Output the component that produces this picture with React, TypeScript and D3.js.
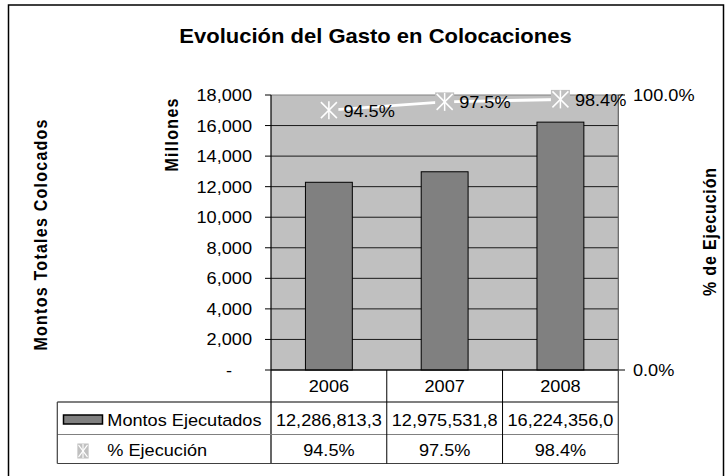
import React from "react";
import * as d3 from "d3";

const categories = ["2006", "2007", "2008"];
const montos = [12286.8133, 12975.5318, 16224.356]; // millones
const montosLabels = ["12,286,813,3", "12,975,531,8", "16,224,356,0"];
const ejecucion = [94.5, 97.5, 98.4];
const ejecucionLabels = ["94.5%", "97.5%", "98.4%"];
const yTicks = [0, 2000, 4000, 6000, 8000, 10000, 12000, 14000, 16000, 18000];
const y2Ticks = [0, 100];

const W = 725;
const H = 476;
const FONT = "'Liberation Sans', Arial, Helvetica, sans-serif";
const SX = 1.1;
const FS = 16.5;

type TP = {
  x: number;
  y: number;
  anchor?: "start" | "middle" | "end";
  size?: number;
  weight?: string;
  rot?: boolean;
  len?: number;
  children: React.ReactNode;
};

function T({ x, y, anchor = "start", size = FS, weight = "normal", rot = false, len, children }: TP) {
  const tf = `translate(${x},${y}) scale(${SX},1)${rot ? " rotate(-90)" : ""}`;
  const extra: any = len ? { textLength: len, lengthAdjust: "spacing" } : {};
  return (
    <text transform={tf} textAnchor={anchor} fontSize={size} fontWeight={weight} fontFamily={FONT} fill="#000" {...extra}>
      {children}
    </text>
  );
}

function Star({ cx, cy, s }: { cx: number; cy: number; s: number }) {
  const h = s / 2;
  const a = h - 1.5;
  return (
    <g>
      <rect x={cx - h} y={cy - h} width={s} height={s} fill="#c0c0c0" />
      <line x1={cx - a} y1={cy - a} x2={cx + a} y2={cy + a} stroke="#fff" strokeWidth={1.5} />
      <line x1={cx - a} y1={cy + a} x2={cx + a} y2={cy - a} stroke="#fff" strokeWidth={1.5} />
      <line x1={cx} y1={cy - h + 0.5} x2={cx} y2={cy + h - 0.5} stroke="#fff" strokeWidth={1.5} />
    </g>
  );
}

export default function App() {
  const left = 271;
  const right = 618.3;
  const top = 95;
  const bottom = 370;
  const rowTop1 = 402;
  const rowTop2 = 434.5;
  const tableBottom = 463.5;
  const legendLeft = 57.3;

  const x = d3.scaleBand<string>().domain(categories).range([left, right]).padding(0);
  const bw = x.bandwidth();
  const barW = bw * 0.405;
  const y = d3.scaleLinear().domain([0, 18000]).range([bottom, top]);
  const y2 = d3.scaleLinear().domain([0, 100]).range([bottom, top]);
  const cx = (c: string) => (x(c) as number) + bw / 2;

  const line = d3
    .line<number>()
    .x((_, i) => cx(categories[i]))
    .y((d) => y2(d));

  const fmt = d3.format(",");

  return (
    <svg width={W} height={H} style={{ position: "absolute", left: 0, top: 0, background: "#fff" }}>
      {/* outer border */}
      <rect x={8.5} y={5} width={715} height={490} fill="#fff" stroke="#000" strokeWidth={1.5} />

      {/* title */}
      <T x={375.5} y={43.3} anchor="middle" size={20} weight="bold">
        Evolución del Gasto en Colocaciones
      </T>

      {/* plot area */}
      <rect x={left} y={top} width={right - left} height={bottom - top} fill="#c0c0c0" />
      {yTicks.map((t) => (
        <line key={t} x1={left} x2={right} y1={y(t)} y2={y(t)} stroke={t === 18000 ? "#808080" : "#1a1a1a"} strokeWidth={1} />
      ))}
      <line x1={right} x2={right} y1={top} y2={bottom} stroke="#606060" strokeWidth={1.2} />

      {/* bars */}
      {montos.map((v, i) => (
        <rect
          key={i}
          x={cx(categories[i]) - barW / 2}
          y={y(v)}
          width={barW}
          height={bottom - y(v)}
          fill="#808080"
          stroke="#000"
          strokeWidth={1}
        />
      ))}

      {/* line series */}
      <path d={line(ejecucion) || ""} fill="none" stroke="#fff" strokeWidth={3} />
      {ejecucion.map((v, i) => (
        <Star key={i} cx={cx(categories[i])} cy={y2(v)} s={19} />
      ))}
      {ejecucion.map((v, i) => (
        <T key={i} x={cx(categories[i]) + 14.5} y={y2(v) + 6.5}>
          {ejecucionLabels[i]}
        </T>
      ))}

      {/* left axis */}
      <line x1={left} x2={left} y1={top} y2={tableBottom} stroke="#000" strokeWidth={1.2} />
      {yTicks.map((t) => (
        <g key={t}>
          <line x1={265} x2={left} y1={y(t)} y2={y(t)} stroke="#000" strokeWidth={1} />
          {t === 0 ? (
            <T x={232} y={y(t) + 6} anchor="end">-</T>
          ) : (
            <T x={252} y={y(t) + 6} anchor="end">{fmt(t)}</T>
          )}
        </g>
      ))}

      {/* right axis */}
      {y2Ticks.map((t) => (
        <g key={t}>
          <line x1={right} x2={625} y1={y2(t)} y2={y2(t)} stroke="#000" strokeWidth={1} />
          <T x={633} y={y2(t) + 6}>{d3.format(".1f")(t) + "%"}</T>
        </g>
      ))}

      {/* axis titles */}
      <T x={46.5} y={235} anchor="middle" size={16} weight="bold" rot len={231}>
        Montos Totales Colocados
      </T>
      <T x={178} y={135} anchor="middle" size={16} weight="bold" rot len={73}>
        Millones
      </T>
      <T x={716} y={232} anchor="middle" size={16} weight="bold" rot len={128}>
        % de Ejecución
      </T>

      {/* data table */}
      <line x1={left} x2={right} y1={bottom} y2={bottom} stroke="#000" strokeWidth={1} />
      <line x1={legendLeft} x2={right} y1={rowTop1} y2={rowTop1} stroke="#000" strokeWidth={1.2} />
      <line x1={legendLeft} x2={right} y1={rowTop2} y2={rowTop2} stroke="#808080" strokeWidth={1.2} />
      <line x1={legendLeft} x2={right} y1={tableBottom} y2={tableBottom} stroke="#404040" strokeWidth={1.2} />
      <line x1={legendLeft} x2={legendLeft} y1={rowTop1} y2={tableBottom} stroke="#404040" strokeWidth={1.2} />
      <line x1={right} x2={right} y1={bottom} y2={tableBottom} stroke="#404040" strokeWidth={1.2} />
      {categories.slice(1).map((c) => (
        <line key={c} x1={x(c) as number} x2={x(c) as number} y1={bottom} y2={tableBottom} stroke="#000" strokeWidth={1} />
      ))}
      {categories.map((c, i) => (
        <g key={c}>
          <T x={cx(c)} y={392} anchor="middle">{c}</T>
          <T x={cx(c)} y={426} anchor="middle">{montosLabels[i]}</T>
          <T x={cx(c)} y={456} anchor="middle">{ejecucionLabels[i]}</T>
        </g>
      ))}

      {/* legend keys */}
      <rect x={63.5} y={415} width={39} height={9} fill="#808080" stroke="#000" strokeWidth={1.5} />
      <T x={107.3} y={426}>Montos Ejecutados</T>
      <g transform="translate(83,451) scale(0.75,1)">
        <Star cx={0} cy={0} s={15} />
      </g>
      <T x={107.3} y={456}>% Ejecución</T>
    </svg>
  );
}
